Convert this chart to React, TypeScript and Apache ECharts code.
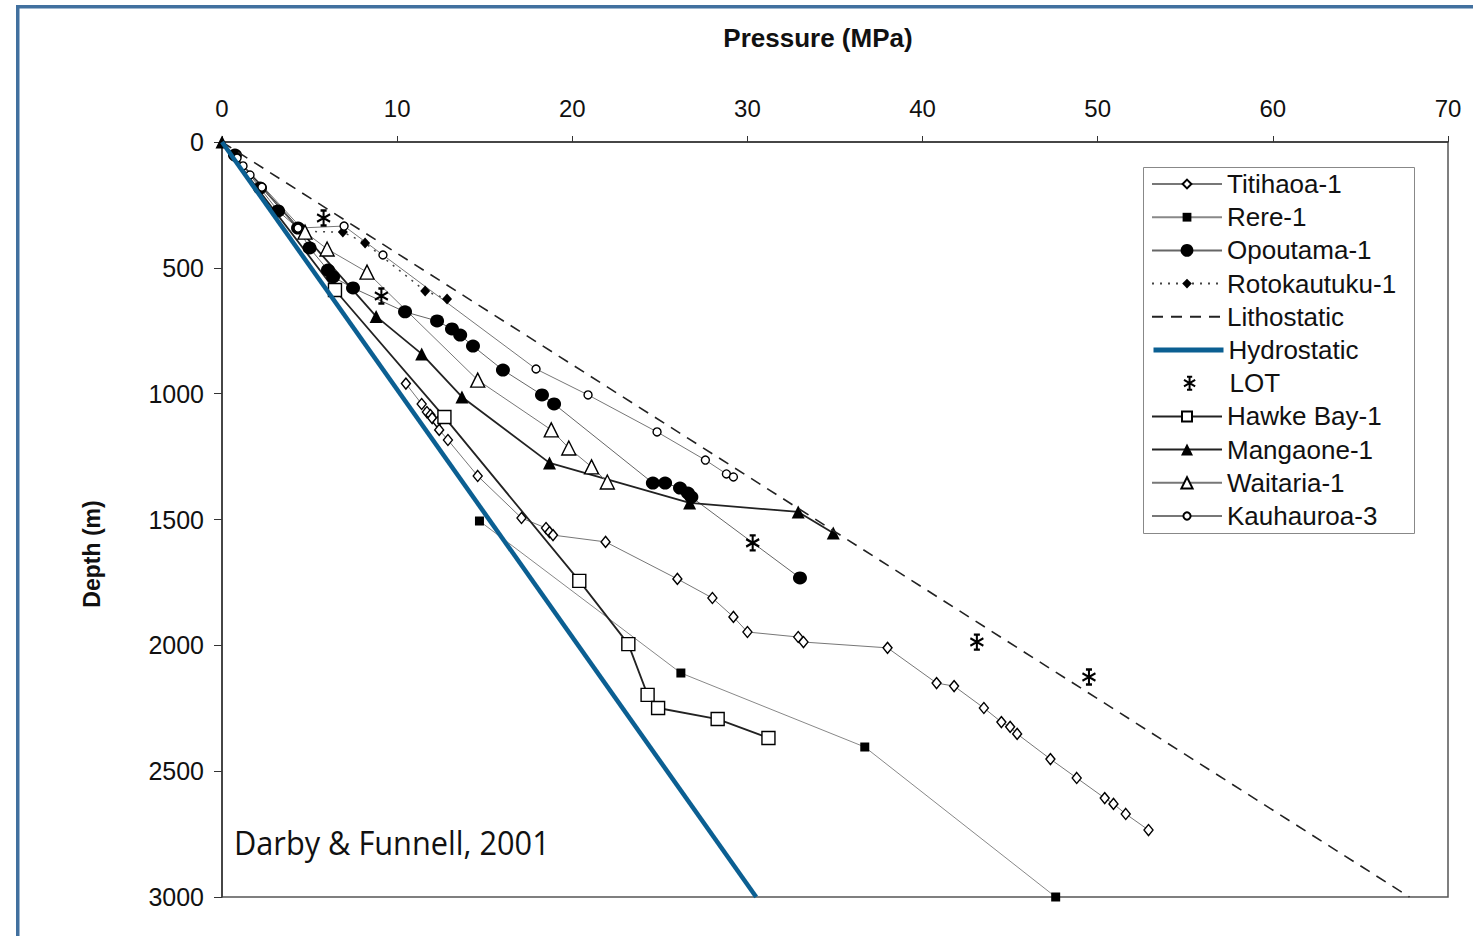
import React, { useEffect, useRef } from "react";
import * as echarts from "echarts";

// [pressure MPa, depth m]
const titihaoa = [
  [10.5, 960], [11.4, 1041], [11.7, 1073], [11.9, 1085], [12.0, 1097], [12.3, 1113], [12.4, 1144],
  [12.9, 1184], [14.6, 1327], [17.1, 1494], [18.5, 1534], [18.7, 1550], [18.9, 1562], [21.9, 1589],
  [26.0, 1736], [28.0, 1812], [29.2, 1887], [30.0, 1947], [32.9, 1967], [33.2, 1987], [38.0, 2010],
  [40.8, 2150], [41.8, 2162], [43.5, 2249], [44.5, 2305], [45.0, 2324], [45.4, 2352], [47.3, 2452],
  [48.8, 2527], [50.4, 2607], [50.9, 2630], [51.6, 2670], [52.9, 2734],
];
const rere = [[14.7, 1506], [26.2, 2110], [36.7, 2404], [47.6, 3000]];
const opoutama = [
  [0.74, 52], [2.17, 183], [3.2, 274], [4.34, 342], [5.0, 421], [6.05, 509], [6.34, 536], [7.48, 580],
  [10.45, 675], [12.28, 711], [13.13, 743], [13.6, 767], [14.33, 811], [16.04, 906], [18.27, 1005],
  [18.96, 1041], [24.6, 1355], [25.3, 1355], [26.15, 1375], [26.6, 1395], [26.8, 1411], [33.0, 1732],
];
const rotokautukuStart = [4.4, 355];
const rotokautuku = [[6.9, 358], [8.17, 401], [11.6, 592], [12.85, 624]];
const lithostatic = [[0, 0], [67.8, 3000]];
const hydrostatic = [[0, 0], [30.5, 3000]];
const lot = [[5.8, 302], [9.1, 612], [30.3, 1593], [43.1, 1987], [49.5, 2126]];
const hawkeBay = [
  [6.45, 588], [12.7, 1093], [20.4, 1744], [23.2, 1995], [24.3, 2197], [24.9, 2249], [28.3, 2293], [31.2, 2368],
];
const mangaone = [[0, 0], [8.8, 693], [11.4, 842], [13.7, 1013], [18.7, 1275], [26.7, 1434], [32.9, 1470], [34.9, 1554]];
const waitaria = [[4.74, 358], [6.0, 425], [8.28, 517], [14.6, 946], [18.8, 1144], [19.8, 1216], [21.1, 1291], [22.0, 1351]];
const kauhauroa = [
  [0.86, 64], [1.2, 95], [1.6, 131], [2.28, 179], [4.34, 342], [6.97, 334], [9.19, 449], [17.93, 902],
  [20.9, 1005], [24.84, 1152], [27.6, 1264], [28.8, 1319], [29.2, 1331],
];
const origin = [0, 0];

const legendNames = [
  "Titihaoa-1", "Rere-1", "Opoutama-1", "Rotokautuku-1", "Lithostatic", "Hydrostatic",
  "LOT", "Hawke Bay-1", "Mangaone-1", "Waitaria-1", "Kauhauroa-3",
];
// legend marker height per entry (symbol is drawn at ~80% of it)
const legendMarkerHeights = [11, 11, 16, 12, 14, 14, 13, 12.5, 15, 14, 9];

const FONT = "Liberation Sans, Arial, sans-serif";
const FRAME = "#41709F";
const BLUE = "#0B5F92";

function lineSeries(
  name: string,
  data: any[],
  symbol: string,
  size: number | number[],
  filled: boolean,
  lineColor: string,
  lineWidth: number,
  lineType: any = "solid",
  z = 2
) {
  return {
    name,
    type: "line",
    data,
    symbol,
    symbolSize: size,
    showSymbol: true,
    z,
    lineStyle: { color: lineColor, width: lineWidth, type: lineType },
    itemStyle: {
      color: filled ? "#000" : "#fff",
      borderColor: "#000",
      borderWidth: filled ? 0 : 1.4,
    },
    emphasis: { disabled: true },
  };
}

const hidden = (p: number[]) => ({ value: p, symbol: "none" });

const asterisk = "path://M5,0L5,10M0.7,2.5L9.3,7.5M0.7,7.5L9.3,2.5M3,0L7,0M3,10L7,10";

const LEG_LEFT = 1143;
const LEG_TOP = 167;
const LEG_STEP = 33.2;

function legendItem(name: string) {
  if (name === "Lithostatic") return { name, itemStyle: { opacity: 0 } };
  if (name === "Hydrostatic") return { name, itemStyle: { opacity: 0 }, lineStyle: { width: 5, color: BLUE } };
  return { name };
}

const legends = legendNames.map((name, i) => ({
  orient: "vertical",
  left: name === "LOT" ? LEG_LEFT + 40 : LEG_LEFT + 8,
  top: LEG_TOP + 17 + i * LEG_STEP - 13,
  itemWidth: 70,
  itemHeight: legendMarkerHeights[i],
  padding: 0,
  selectedMode: false,
  textStyle: { fontSize: 26, lineHeight: 26, fontFamily: FONT, color: "#111" },
  data: [legendItem(name)],
}));

const option: any = {
  animation: false,
  backgroundColor: "#fff",
  grid: {
    left: 222,
    top: 142,
    right: 25,
    bottom: 39,
    show: true,
    borderColor: "#555",
    borderWidth: 1.5,
  },
  xAxis: {
    type: "value",
    position: "top",
    min: 0,
    max: 70,
    interval: 10,
    axisLine: { show: true, lineStyle: { color: "#333", width: 1.5 } },
    axisTick: { show: true, length: 6, lineStyle: { color: "#333", width: 1 } },
    axisLabel: { fontSize: 24, margin: 22, color: "#111", fontFamily: FONT },
    splitLine: { show: false },
  },
  yAxis: {
    type: "value",
    inverse: true,
    min: 0,
    max: 3000,
    interval: 500,
    axisLine: { show: true, lineStyle: { color: "#333", width: 1.5 } },
    axisTick: { show: true, length: 8, lineStyle: { color: "#333", width: 1 } },
    axisLabel: {
      fontSize: 25,
      margin: 18,
      color: "#111",
      fontFamily: FONT,
      formatter: (v: number) => String(v),
    },
    splitLine: { show: false },
  },
  legend: legends,
  graphic: [
    { type: "rect", shape: { x: 16, y: 5, width: 1460, height: 3.5 }, style: { fill: FRAME }, z: 100 },
    { type: "rect", shape: { x: 16, y: 5, width: 3.5, height: 940 }, style: { fill: FRAME }, z: 100 },
    {
      type: "rect",
      shape: { x: LEG_LEFT + 0.5, y: LEG_TOP + 0.5, width: 271, height: 366 },
      style: { fill: "#fff", stroke: "#888", lineWidth: 1 },
      z: 3,
    },
    {
      type: "text",
      x: 818,
      y: 38,
      style: {
        text: "Pressure (MPa)",
        font: `bold 26px ${FONT}`,
        fill: "#111",
        textAlign: "center",
        textVerticalAlign: "middle",
      },
    },
    {
      type: "text",
      x: 92,
      y: 554,
      rotation: Math.PI / 2,
      style: {
        text: "Depth (m)",
        font: `bold 23px ${FONT}`,
        fill: "#111",
        textAlign: "center",
        textVerticalAlign: "middle",
      },
    },
    {
      type: "text",
      x: 234,
      y: 842,
      scaleX: 0.96,
      style: {
        text: "Darby & Funnell, 2001",
        font: `32px "Open Sans", sans-serif`,
        fill: "#111",
        textAlign: "left",
        textVerticalAlign: "middle",
      },
    },
  ],
  series: [
    lineSeries("Titihaoa-1", titihaoa, "diamond", [9, 11], false, "#777", 1),
    lineSeries("Rere-1", rere, "rect", 9, true, "#888", 1),
    lineSeries("Opoutama-1", opoutama, "circle", [14, 13], true, "#666", 1),
    lineSeries("Rotokautuku-1", [hidden(rotokautukuStart), ...rotokautuku], "diamond", [10, 11], true, "#444", 1.5, [2, 6]),
    {
      name: "Lithostatic",
      type: "line",
      data: lithostatic,
      symbol: "none",
      lineStyle: { color: "#222", width: 1.6, type: [11, 8] },
      itemStyle: { color: "#222" },
      emphasis: { disabled: true },
    },
    {
      name: "Hydrostatic",
      type: "line",
      data: hydrostatic,
      symbol: "none",
      z: 5,
      lineStyle: { color: BLUE, width: 4.5 },
      itemStyle: { color: BLUE },
      emphasis: { disabled: true },
    },
    {
      name: "LOT",
      type: "scatter",
      data: lot,
      symbol: asterisk,
      symbolSize: [13, 15],
      itemStyle: { color: "transparent", borderColor: "#000", borderWidth: 2.2, opacity: 1 },
      emphasis: { disabled: true },
    },
    lineSeries("Hawke Bay-1", [hidden(origin), ...hawkeBay], "rect", 13, false, "#222", 1.8),
    lineSeries("Mangaone-1", mangaone, "triangle", 13, true, "#222", 1.8),
    lineSeries("Waitaria-1", [hidden(origin), ...waitaria], "triangle", 14, false, "#777", 1),
    lineSeries("Kauhauroa-3", kauhauroa, "circle", 8, false, "#777", 1),
  ],
};

export default function App() {
  const ref = useRef<HTMLDivElement>(null);
  useEffect(() => {
    const chart = echarts.init(ref.current!, null, { renderer: "svg" });
    chart.setOption(option);
    return () => chart.dispose();
  }, []);
  return (
    <div
      ref={ref}
      style={{ position: "fixed", left: 0, top: 0, width: 1473, height: 936, background: "#fff" }}
    />
  );
}
